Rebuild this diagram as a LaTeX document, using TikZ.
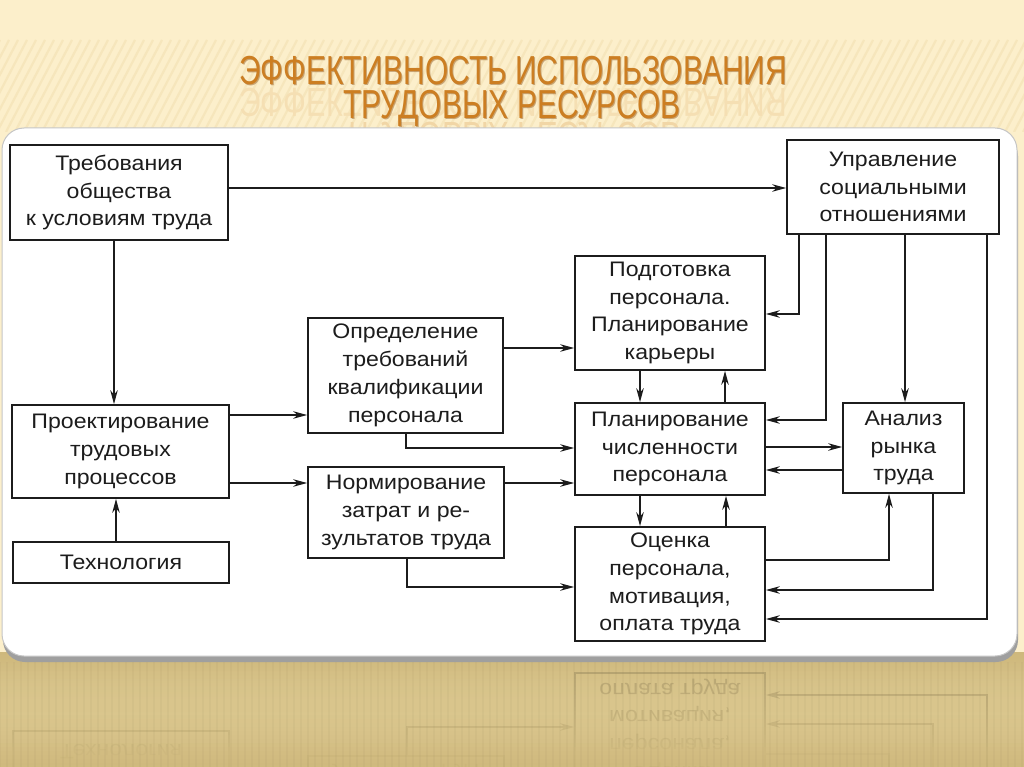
\documentclass[tikz,border=0pt]{standalone}
\usepackage{fontspec}
\setmainfont{Liberation Sans}
\newfontfamily\diafont[FakeStretch=1.1]{Liberation Sans}
\newfontfamily\titfont[FakeStretch=0.74]{Liberation Sans}
\usetikzlibrary{arrows.meta}

\definecolor{cream}{RGB}{252,239,203}
\definecolor{stripe}{RGB}{246,230,188}
\definecolor{tanA}{RGB}{206,184,124}
\definecolor{tanB}{RGB}{228,210,156}
\definecolor{titcol}{RGB}{204,126,34}
\definecolor{titdark}{RGB}{140,80,20}
\definecolor{refl}{RGB}{176,158,108}
\definecolor{dgline}{RGB}{28,28,28}

\tikzset{
  box/.style={draw=dgline, line width=1.7pt, text=dgline,
    font=\diafont\fontsize{21}{27.8}\selectfont, align=center, inner sep=0pt},
  conn/.style={draw=dgline, line width=1.3pt, -{Stealth[length=14pt,width=7.5pt]}},
}

\newcommand\drawdiagram{%
  \node[box, minimum width=218pt, minimum height=95pt]  (A) at (119,192.5) {Требования\\общества\\к условиям труда};
  \node[box, minimum width=212pt, minimum height=94pt]  (U) at (893,187)   {Управление\\социальными\\отношениями};
  \node[box, minimum width=190pt, minimum height=114pt] (P) at (670,313)   {Подготовка\\персонала.\\Планирование\\карьеры};
  \node[box, minimum width=195pt, minimum height=115pt] (D) at (405.5,375.5) {Определение\\требований\\квалификации\\персонала};
  \node[box, minimum width=217pt, minimum height=93pt]  (B) at (120.5,451.5) {Проектирование\\трудовых\\процессов};
  \node[box, minimum width=190pt, minimum height=92pt]  (L) at (670,449)   {Планирование\\численности\\персонала};
  \node[box, minimum width=121pt, minimum height=90pt]  (R) at (903.5,448) {Анализ\\рынка\\труда};
  \node[box, minimum width=196pt, minimum height=91pt]  (N) at (406,512.5) {Нормирование\\затрат и ре-\\зультатов труда};
  \node[box, minimum width=216pt, minimum height=41pt]  (C) at (121,562.5) {Технология};
  \node[box, minimum width=190pt, minimum height=114pt] (O) at (670,584)   {Оценка\\персонала,\\мотивация,\\оплата труда};
  %
  \draw[conn] (A.east |- 0,188) -- (U.west |- 0,188);
  \draw[conn] (A.south -| 114,0) -- (B.north -| 114,0);
  \draw[conn] (C.north -| 116,0) -- (B.south -| 116,0);
  \draw[conn] (B.east |- 0,415) -- (D.west |- 0,415);
  \draw[conn] (B.east |- 0,483) -- (N.west |- 0,483);
  \draw[conn] (D.east |- 0,348) -- (P.west |- 0,348);
  \draw[conn] (D.south -| 406,0) |- (L.west |- 0,448);
  \draw[conn] (N.east |- 0,483) -- (L.west |- 0,483);
  \draw[conn] (N.south -| 407,0) |- (O.west |- 0,587);
  \draw[conn] (P.south -| 640,0) -- (L.north -| 640,0);
  \draw[conn] (L.north -| 725,0) -- (P.south -| 725,0);
  \draw[conn] (L.south -| 640,0) -- (O.north -| 640,0);
  \draw[conn] (O.north -| 726,0) -- (L.south -| 726,0);
  \draw[conn] (U.south -| 799,0) |- (P.east |- 0,314);
  \draw[conn] (U.south -| 826,0) |- (L.east |- 0,420);
  \draw[conn] (U.south -| 905,0) -- (R.north -| 905,0);
  \draw[conn] (U.south -| 987,0) |- (O.east |- 0,619);
  \draw[conn] (L.east |- 0,447) -- (R.west |- 0,447);
  \draw[conn] (R.west |- 0,470) -- (L.east |- 0,470);
  \draw[conn] (O.east |- 0,560) -| (R.south -| 889,0);
  \draw[conn] (R.south -| 933,0) |- (O.east |- 0,590);
}

\begin{document}
\begin{tikzpicture}[x=1pt,y=-1pt]
\useasboundingbox (0,0) rectangle (1024,767);
% background
\fill[cream] (0,0) rectangle (1024,767);
\begin{scope}
  \clip (0,40) rectangle (1024,132);
  \foreach \i in {-120,-111,...,1100} \draw[stripe, line width=2.2pt] (\i,132) -- (\i+48,40);
\end{scope}
\shade[top color=tanA, bottom color=tanB] (0,652) rectangle (1024,767);
% title reflections
\begin{scope}
  \clip (0,87) rectangle (1024,128);
  \node[yscale=-1, anchor=base, font=\titfont\fontsize{40.5}{40.5}\selectfont, text=titcol!14!cream] (t1r) at (513,89) {ЭФФЕКТИВНОСТЬ ИСПОЛЬЗОВАНИЯ};
  \node[yscale=-1, anchor=base, font=\titfont\fontsize{40.5}{40.5}\selectfont, text=titcol!22!cream] (t2r) at (512,123) {ТРУДОВЫХ РЕСУРСОВ};
\end{scope}
% title
\node[anchor=base, font=\titfont\fontsize{40.5}{40.5}\selectfont, text=titdark, opacity=0.45] (t1s) at (514,86) {ЭФФЕКТИВНОСТЬ ИСПОЛЬЗОВАНИЯ};
\node[anchor=base, font=\titfont\fontsize{40.5}{40.5}\selectfont, text=titdark, opacity=0.45] (t2s) at (513,120) {ТРУДОВЫХ РЕСУРСОВ};
\node[anchor=base, font=\titfont\fontsize{40.5}{40.5}\selectfont, text=titcol] (t1) at (513,85) {ЭФФЕКТИВНОСТЬ ИСПОЛЬЗОВАНИЯ};
\node[anchor=base, font=\titfont\fontsize{40.5}{40.5}\selectfont, text=titcol] (t2) at (512,119) {ТРУДОВЫХ РЕСУРСОВ};
% panel
\fill[gray!75, rounded corners=22pt] (3,134) rectangle (1018,662);
\fill[white, draw=gray!45, line width=1pt, rounded corners=22pt] (2,128) rectangle (1017,656);
% reflection of the diagram
\begin{scope}
  \clip (0,663) rectangle (1024,767);
  \begin{scope}[shift={(0,1314)}, yscale=-1, transform shape]
    \colorlet{dgline}{refl}
    \drawdiagram
  \end{scope}
  % fade the reflection towards the bottom
  \foreach \k in {0,...,25} {
    \pgfmathsetmacro\op{min(0.92,0.05+\k*0.04)}
    \pgfmathsetmacro\mx{100-\k*4}
    \fill[tanB!\mx!tanA, opacity=\op] (0,663+\k*4) rectangle (1024,667+\k*4);
  }
\end{scope}
\foreach \i in {0,7,...,1024} \draw[tanA!70!black, opacity=0.07, line width=2.5pt] (\i,662) -- (\i,767);
% diagram
\drawdiagram
\end{tikzpicture}
\end{document}
